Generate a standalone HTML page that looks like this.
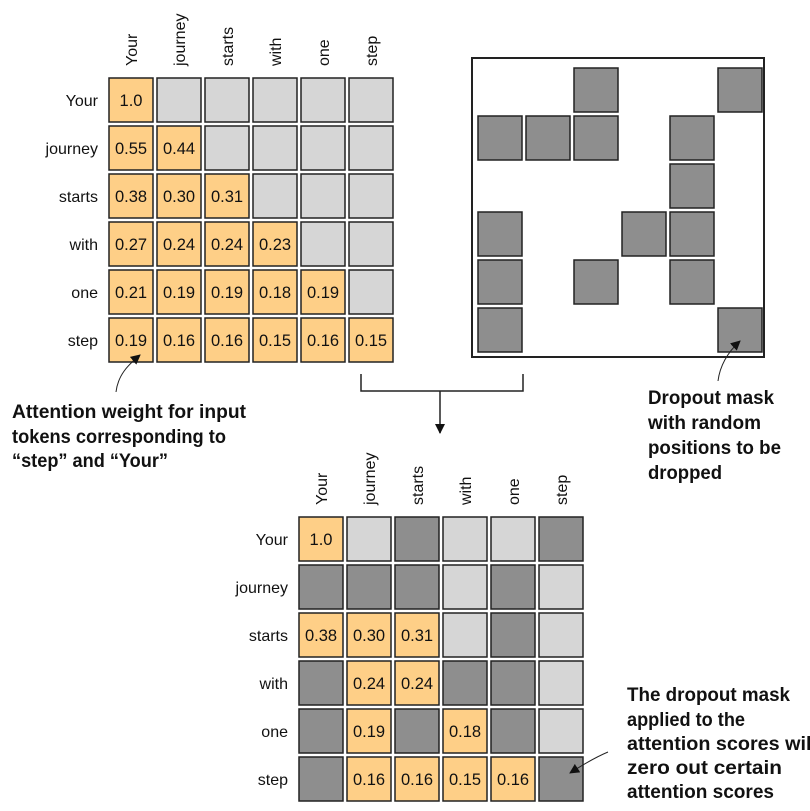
<!DOCTYPE html>
<html><head><meta charset="utf-8"><style>
body{margin:0;background:#fff}
svg{display:block}
.l{font-family:"Liberation Sans",Arial,sans-serif;font-size:16px;fill:#111}
.n{font-family:"Liberation Sans",Arial,sans-serif;font-size:16.5px;fill:#111;text-anchor:middle}
.b{font-family:"Liberation Sans",sans-serif;font-weight:bold;font-size:19px;fill:#111}
.o{fill:#fecf87;stroke:#222;stroke-width:1.5}
.g{fill:#d6d6d6;stroke:#222;stroke-width:1.5}
.d{fill:#8e8e8e;stroke:#222;stroke-width:1.5}
</style></head><body>
<svg width="810" height="811" viewBox="0 0 810 811" xmlns="http://www.w3.org/2000/svg">
<defs><marker id="ah" markerWidth="10" markerHeight="10" refX="9" refY="5" orient="auto" markerUnits="userSpaceOnUse"><path d="M0,0 L10,5 L0,10 z" fill="#111"/></marker></defs>
<g class="l">
<text transform="translate(137,66) rotate(-90)">Your</text>
<text transform="translate(185,66) rotate(-90)">journey</text>
<text transform="translate(233,66) rotate(-90)">starts</text>
<text transform="translate(281,66) rotate(-90)">with</text>
<text transform="translate(329,66) rotate(-90)">one</text>
<text transform="translate(377,66) rotate(-90)">step</text>
</g>
<g class="l" text-anchor="end">
<text x="98" y="106">Your</text><text x="98" y="154">journey</text><text x="98" y="202">starts</text>
<text x="98" y="250">with</text><text x="98" y="298">one</text><text x="98" y="346">step</text>
</g>
<rect class="o" x="109" y="78" width="44" height="44"/><rect class="g" x="157" y="78" width="44" height="44"/><rect class="g" x="205" y="78" width="44" height="44"/><rect class="g" x="253" y="78" width="44" height="44"/><rect class="g" x="301" y="78" width="44" height="44"/><rect class="g" x="349" y="78" width="44" height="44"/>
<rect class="o" x="109" y="126" width="44" height="44"/><rect class="o" x="157" y="126" width="44" height="44"/><rect class="g" x="205" y="126" width="44" height="44"/><rect class="g" x="253" y="126" width="44" height="44"/><rect class="g" x="301" y="126" width="44" height="44"/><rect class="g" x="349" y="126" width="44" height="44"/>
<rect class="o" x="109" y="174" width="44" height="44"/><rect class="o" x="157" y="174" width="44" height="44"/><rect class="o" x="205" y="174" width="44" height="44"/><rect class="g" x="253" y="174" width="44" height="44"/><rect class="g" x="301" y="174" width="44" height="44"/><rect class="g" x="349" y="174" width="44" height="44"/>
<rect class="o" x="109" y="222" width="44" height="44"/><rect class="o" x="157" y="222" width="44" height="44"/><rect class="o" x="205" y="222" width="44" height="44"/><rect class="o" x="253" y="222" width="44" height="44"/><rect class="g" x="301" y="222" width="44" height="44"/><rect class="g" x="349" y="222" width="44" height="44"/>
<rect class="o" x="109" y="270" width="44" height="44"/><rect class="o" x="157" y="270" width="44" height="44"/><rect class="o" x="205" y="270" width="44" height="44"/><rect class="o" x="253" y="270" width="44" height="44"/><rect class="o" x="301" y="270" width="44" height="44"/><rect class="g" x="349" y="270" width="44" height="44"/>
<rect class="o" x="109" y="318" width="44" height="44"/><rect class="o" x="157" y="318" width="44" height="44"/><rect class="o" x="205" y="318" width="44" height="44"/><rect class="o" x="253" y="318" width="44" height="44"/><rect class="o" x="301" y="318" width="44" height="44"/><rect class="o" x="349" y="318" width="44" height="44"/>
<g class="n">
<text x="131" y="106">1.0</text>
<text x="131" y="154">0.55</text><text x="179" y="154">0.44</text>
<text x="131" y="202">0.38</text><text x="179" y="202">0.30</text><text x="227" y="202">0.31</text>
<text x="131" y="250">0.27</text><text x="179" y="250">0.24</text><text x="227" y="250">0.24</text><text x="275" y="250">0.23</text>
<text x="131" y="298">0.21</text><text x="179" y="298">0.19</text><text x="227" y="298">0.19</text><text x="275" y="298">0.18</text><text x="323" y="298">0.19</text>
<text x="131" y="346">0.19</text><text x="179" y="346">0.16</text><text x="227" y="346">0.16</text><text x="275" y="346">0.15</text><text x="323" y="346">0.16</text><text x="371" y="346">0.15</text>
</g>
<rect x="472" y="58" width="292" height="299" fill="#fff" stroke="#222" stroke-width="2"/>
<rect class="d" x="574" y="68" width="44" height="44"/><rect class="d" x="718" y="68" width="44" height="44"/>
<rect class="d" x="478" y="116" width="44" height="44"/><rect class="d" x="526" y="116" width="44" height="44"/><rect class="d" x="574" y="116" width="44" height="44"/><rect class="d" x="670" y="116" width="44" height="44"/>
<rect class="d" x="670" y="164" width="44" height="44"/>
<rect class="d" x="478" y="212" width="44" height="44"/><rect class="d" x="622" y="212" width="44" height="44"/><rect class="d" x="670" y="212" width="44" height="44"/>
<rect class="d" x="478" y="260" width="44" height="44"/><rect class="d" x="574" y="260" width="44" height="44"/><rect class="d" x="670" y="260" width="44" height="44"/>
<rect class="d" x="478" y="308" width="44" height="44"/><rect class="d" x="718" y="308" width="44" height="44"/>
<path d="M361,374 V391 H523 V374" fill="none" stroke="#222" stroke-width="1.5"/>
<line x1="440" y1="391" x2="440" y2="433" stroke="#222" stroke-width="1.5" marker-end="url(#ah)"/>
<path d="M116,392 C118,375 128,365 140,355" fill="none" stroke="#222" stroke-width="1" marker-end="url(#ah)"/>
<g class="b">
<text x="12" y="418" textLength="234" lengthAdjust="spacingAndGlyphs">Attention weight for input</text>
<text x="12" y="443" textLength="214" lengthAdjust="spacingAndGlyphs">tokens corresponding to</text>
<text x="12" y="467" textLength="156" lengthAdjust="spacingAndGlyphs">“step” and “Your”</text>
</g>
<path d="M718,381 C720,365 728,352 740,341" fill="none" stroke="#222" stroke-width="1" marker-end="url(#ah)"/>
<g class="b">
<text x="648" y="404" textLength="126" lengthAdjust="spacingAndGlyphs">Dropout mask</text>
<text x="648" y="429" textLength="113" lengthAdjust="spacingAndGlyphs">with random</text>
<text x="648" y="454" textLength="133" lengthAdjust="spacingAndGlyphs">positions to be</text>
<text x="648" y="479" textLength="74" lengthAdjust="spacingAndGlyphs">dropped</text>
</g>
<g class="b">
<text x="627" y="701" textLength="163" lengthAdjust="spacingAndGlyphs">The dropout mask</text>
<text x="627" y="726" textLength="118" lengthAdjust="spacingAndGlyphs">applied to the</text>
<text x="627" y="750" textLength="190" lengthAdjust="spacingAndGlyphs">attention scores will</text>
<text x="627" y="774" textLength="155" lengthAdjust="spacingAndGlyphs">zero out certain</text>
<text x="627" y="798" textLength="147" lengthAdjust="spacingAndGlyphs">attention scores</text>
</g>
<g class="l">
<text transform="translate(327,505) rotate(-90)">Your</text>
<text transform="translate(375,505) rotate(-90)">journey</text>
<text transform="translate(423,505) rotate(-90)">starts</text>
<text transform="translate(471,505) rotate(-90)">with</text>
<text transform="translate(519,505) rotate(-90)">one</text>
<text transform="translate(567,505) rotate(-90)">step</text>
</g>
<g class="l" text-anchor="end">
<text x="288" y="545">Your</text><text x="288" y="593">journey</text><text x="288" y="641">starts</text>
<text x="288" y="689">with</text><text x="288" y="737">one</text><text x="288" y="785">step</text>
</g>
<rect class="o" x="299" y="517" width="44" height="44"/><rect class="g" x="347" y="517" width="44" height="44"/><rect class="d" x="395" y="517" width="44" height="44"/><rect class="g" x="443" y="517" width="44" height="44"/><rect class="g" x="491" y="517" width="44" height="44"/><rect class="d" x="539" y="517" width="44" height="44"/>
<rect class="d" x="299" y="565" width="44" height="44"/><rect class="d" x="347" y="565" width="44" height="44"/><rect class="d" x="395" y="565" width="44" height="44"/><rect class="g" x="443" y="565" width="44" height="44"/><rect class="d" x="491" y="565" width="44" height="44"/><rect class="g" x="539" y="565" width="44" height="44"/>
<rect class="o" x="299" y="613" width="44" height="44"/><rect class="o" x="347" y="613" width="44" height="44"/><rect class="o" x="395" y="613" width="44" height="44"/><rect class="g" x="443" y="613" width="44" height="44"/><rect class="d" x="491" y="613" width="44" height="44"/><rect class="g" x="539" y="613" width="44" height="44"/>
<rect class="d" x="299" y="661" width="44" height="44"/><rect class="o" x="347" y="661" width="44" height="44"/><rect class="o" x="395" y="661" width="44" height="44"/><rect class="d" x="443" y="661" width="44" height="44"/><rect class="d" x="491" y="661" width="44" height="44"/><rect class="g" x="539" y="661" width="44" height="44"/>
<rect class="d" x="299" y="709" width="44" height="44"/><rect class="o" x="347" y="709" width="44" height="44"/><rect class="d" x="395" y="709" width="44" height="44"/><rect class="o" x="443" y="709" width="44" height="44"/><rect class="d" x="491" y="709" width="44" height="44"/><rect class="g" x="539" y="709" width="44" height="44"/>
<rect class="d" x="299" y="757" width="44" height="44"/><rect class="o" x="347" y="757" width="44" height="44"/><rect class="o" x="395" y="757" width="44" height="44"/><rect class="o" x="443" y="757" width="44" height="44"/><rect class="o" x="491" y="757" width="44" height="44"/><rect class="d" x="539" y="757" width="44" height="44"/>
<g class="n">
<text x="321" y="545">1.0</text>
<text x="321" y="641">0.38</text><text x="369" y="641">0.30</text><text x="417" y="641">0.31</text>
<text x="369" y="689">0.24</text><text x="417" y="689">0.24</text>
<text x="369" y="737">0.19</text><text x="465" y="737">0.18</text>
<text x="369" y="785">0.16</text><text x="417" y="785">0.16</text><text x="465" y="785">0.15</text><text x="513" y="785">0.16</text>
</g>
<path d="M608,752 C596,757 584,764 570,773" fill="none" stroke="#222" stroke-width="1" marker-end="url(#ah)"/>
</svg>
</body></html>
